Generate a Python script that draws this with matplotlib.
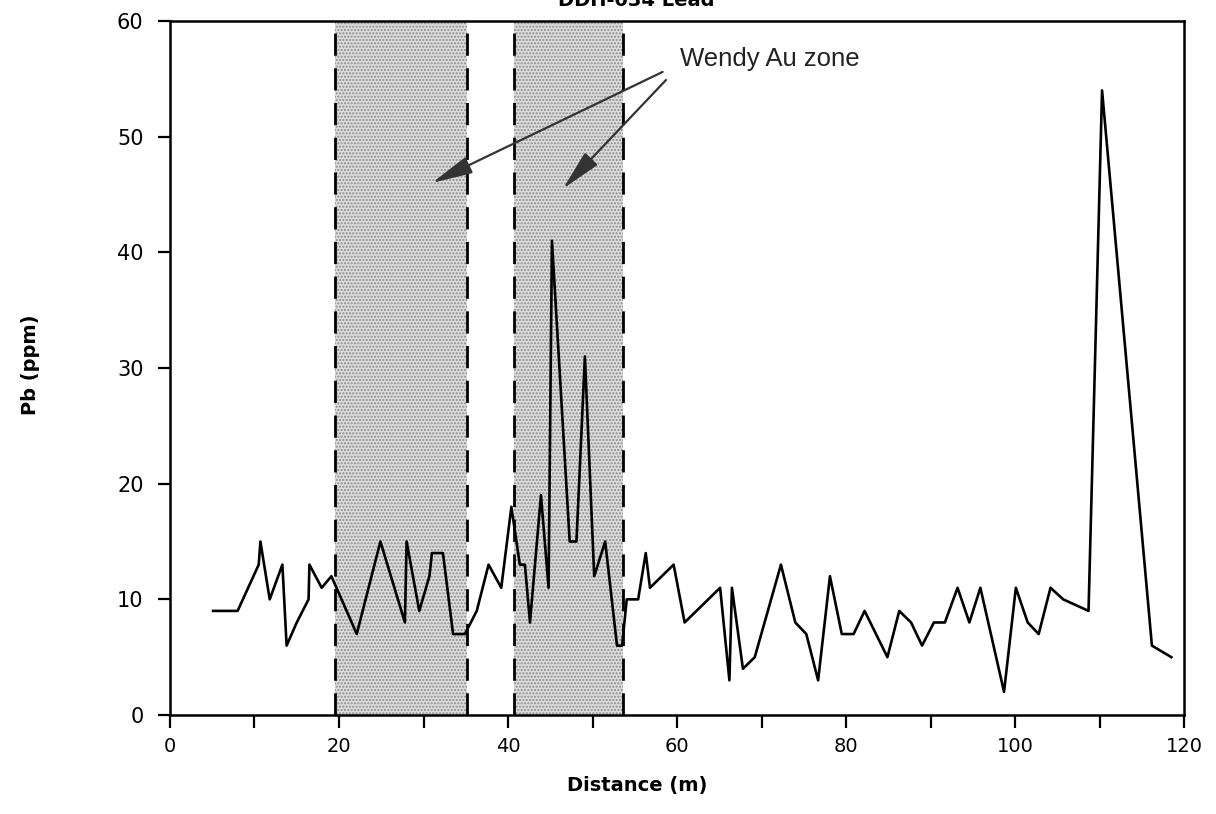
import matplotlib
matplotlib.use("Agg")
import matplotlib.pyplot as plt

# DDH-034 lead profile
distance = [5.1, 8.0, 10.5, 10.7, 11.8, 13.3, 13.8, 15.0, 16.4, 16.5,
            17.95, 19.1, 22.1, 24.9, 27.8, 28.0, 29.5, 30.7, 31.0, 32.3,
            33.5, 34.9, 36.3, 37.7, 39.2, 40.4, 41.4, 42.0, 42.6, 43.9,
            44.8, 45.2, 47.3, 48.1, 49.1, 50.2, 51.5, 52.9, 53.5, 54.05,
            55.4, 56.3, 56.8, 59.6, 60.9, 65.1, 66.2, 66.5, 67.8, 69.2,
            72.3, 74.0, 75.3, 76.7, 78.1, 79.5, 80.9, 82.2, 84.9, 86.3,
            87.7, 89.0, 90.4, 91.7, 93.2, 94.6, 95.9, 98.7, 100.1, 101.5,
            102.8, 104.2, 105.7, 108.7, 110.3, 116.2, 118.5]
pb_ppm = [9, 9, 13, 15, 10, 13, 6, 8, 10, 13,
          11, 12, 7, 15, 8, 15, 9, 12, 14, 14,
          7, 7, 9, 13, 11, 18, 13, 13, 8, 19,
          11, 41, 15, 15, 31, 12, 15, 6, 6, 10,
          10, 14, 11, 13, 8, 11, 3, 11, 4, 5,
          13, 8, 7, 3, 12, 7, 7, 9, 5, 9,
          8, 6, 8, 8, 11, 8, 11, 2, 11, 8,
          7, 11, 10, 9, 54, 6, 5]

# Wendy Au zone intervals (m)
zones = [(19.5, 35.2), (40.7, 53.6)]
zone_label = "Wendy Au zone"
arrow_tips = [(31.0, 46.0), (46.5, 45.5)]
arrow_starts = [(58.3, 55.6), (58.7, 54.9)]

x_ticks = list(range(0, 121, 10))
x_labels = [str(v) if v % 20 == 0 else "" for v in x_ticks]
y_ticks = list(range(0, 61, 10))

plt.rcParams['font.family'] = ['DejaVu Sans']

fig = plt.figure(figsize=(12.16, 8.14), dpi=100)
ax = fig.add_axes([0.1398, 0.1216, 0.8339, 0.8526])

for x0, x1 in zones:
    ax.axvspan(x0, x1, facecolor='#dcdcdc', edgecolor='#8c8c8c',
               hatch='.....', linewidth=0, zorder=1)
    for xv in (x0, x1):
        ax.axvline(xv, color='black', lw=2.0, dashes=(8, 4.5), zorder=2)

ax.plot(distance, pb_ppm, color='black', lw=1.9, zorder=3)

ax.set_xlim(0, 120)
ax.set_ylim(0, 60)
ax.set_xticks(x_ticks)
ax.set_xticklabels(x_labels)
ax.set_yticks(y_ticks)
ax.tick_params(direction='out', length=9, width=1.6, colors='black')
ax.tick_params(axis='x', pad=7, labelsize=14)
ax.tick_params(axis='y', pad=10, labelsize=15)
for sp in ax.spines.values():
    sp.set_linewidth(1.8)

for start, tip in zip(arrow_starts, arrow_tips):
    ax.annotate("", xy=tip, xytext=start,
                arrowprops=dict(arrowstyle='-|>,head_length=1.4,head_width=0.3',
                                mutation_scale=18, color='#333333', lw=1.6,
                                shrinkA=0, shrinkB=0), zorder=4)
ax.text(60.3, 56.7, zone_label, fontsize=18.5, va='center', ha='left',
        family=['Liberation Sans', 'DejaVu Sans'], color='#222222', zorder=4)

fig.text(636 / 1216, 1 - 6 / 814, "DDH-034 Lead", fontsize=14,
         fontweight='bold', ha='center', va='baseline')
fig.text(637 / 1216, 1 - 785 / 814, "Distance (m)", fontsize=14,
         fontweight='bold', ha='center', va='center')
fig.text(30 / 1216, 1 - 365 / 814, "Pb (ppm)", fontsize=14,
         fontweight='bold', ha='center', va='center', rotation=90)

fig.savefig("out.png", dpi=100)
